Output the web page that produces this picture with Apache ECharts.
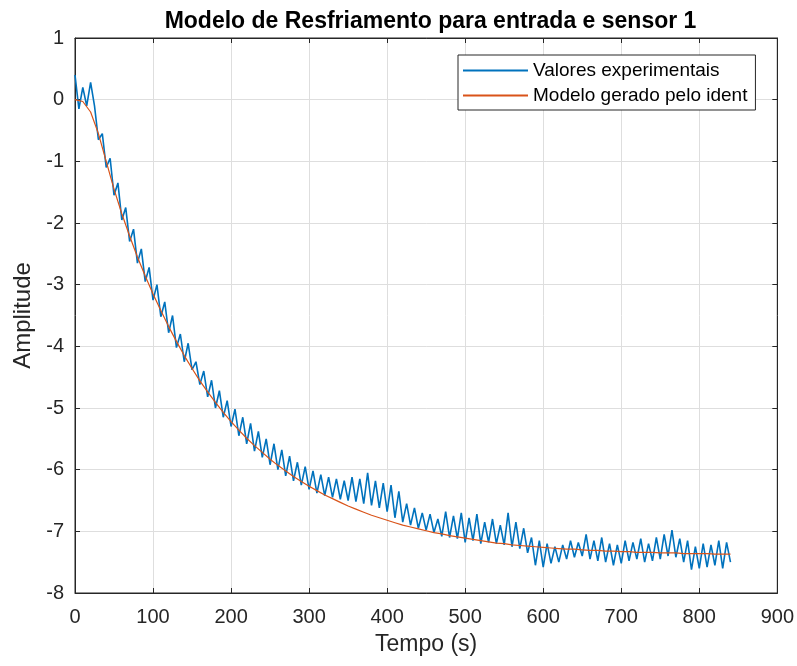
<!DOCTYPE html>
<html>
<head>
<meta charset="utf-8">
<script src="https://cdn.jsdelivr.net/npm/echarts@6/dist/echarts.min.js"></script>
<style>
html,body{margin:0;padding:0;background:#fff;}
#c{width:797px;height:666px;}
</style>
</head>
<body>
<div id="c"></div>
<script>
const titleText = 'Modelo de Resfriamento para entrada e sensor 1';
const xName = 'Tempo (s)';
const yName = 'Amplitude';
const seriesNames = ['Valores experimentais', 'Modelo gerado pelo ident'];

const expTime = [0,5,10,15,20,25,30,35,40,45,50,55,60,65,70,75,80,85,90,95,
100,105,110,115,120,125,130,135,140,145,150,155,160,165,170,175,180,185,190,195,
200,205,210,215,220,225,230,235,240,245,250,255,260,265,270,275,280,285,290,295,
300,305,310,315,320,325,330,335,340,345,350,355,360,365,370,375,380,385,390,395,
400,405,410,415,420,425,430,435,440,445,450,455,460,465,470,475,480,485,490,495,
500,505,510,515,520,525,530,535,540,545,550,555,560,565,570,575,580,585,590,595,
600,605,610,615,620,625,630,635,640,645,650,655,660,665,670,675,680,685,690,695,
700,705,710,715,720,725,730,735,740,745,750,755,760,765,770,775,780,785,790,795,
800,805,810,815,820,825,830,835,840];

const expValues = [0.40,-0.15,0.20,-0.10,0.28,-0.10,-0.65,-0.55,-1.10,-0.95,
-1.55,-1.35,-1.95,-1.75,-2.30,-2.10,-2.65,-2.42,-2.95,-2.72,
-3.25,-3.00,-3.52,-3.28,-3.78,-3.50,-4.02,-3.80,-4.25,-3.95,
-4.38,-4.25,-4.62,-4.40,-4.82,-4.55,-5.00,-4.72,-5.15,-4.88,
-5.30,-5.02,-5.45,-5.15,-5.58,-5.25,-5.70,-5.38,-5.80,-5.50,
-5.92,-5.58,-6.00,-5.68,-6.10,-5.78,-6.18,-5.88,-6.25,-5.95,
-6.32,-6.02,-6.38,-6.08,-6.42,-6.12,-6.45,-6.15,-6.48,-6.18,
-6.50,-6.12,-6.52,-6.15,-6.55,-6.05,-6.58,-6.18,-6.62,-6.22,
-6.68,-6.25,-6.78,-6.35,-6.85,-6.55,-6.90,-6.62,-6.95,-6.70,
-6.98,-6.72,-7.02,-6.80,-7.08,-6.68,-7.10,-6.75,-7.12,-6.70,
-7.18,-6.78,-7.15,-6.72,-7.20,-6.85,-7.18,-6.80,-7.20,-6.90,
-7.22,-6.70,-7.25,-6.85,-7.28,-6.95,-7.35,-7.10,-7.55,-7.15,
-7.58,-7.20,-7.52,-7.25,-7.50,-7.22,-7.45,-7.15,-7.42,-7.18,
-7.40,-7.05,-7.45,-7.15,-7.48,-7.10,-7.50,-7.20,-7.55,-7.22,
-7.52,-7.15,-7.48,-7.18,-7.45,-7.12,-7.50,-7.20,-7.48,-7.10,
-7.45,-7.05,-7.40,-6.98,-7.42,-7.12,-7.50,-7.15,-7.62,-7.25,
-7.60,-7.20,-7.58,-7.22,-7.55,-7.15,-7.60,-7.18,-7.50];

const modelTime = [0,10,20,30,40,50,60,70,80,90,100,110,120,130,140,150,160,170,180,190,
200,210,220,230,240,250,260,270,280,290,300,310,320,330,340,350,360,370,380,390,
400,410,420,430,440,450,460,470,480,490,500,510,520,530,540,550,560,570,580,590,
600,610,620,630,640,650,660,670,680,690,700,710,720,730,740,750,760,770,780,790,
800,810,820,830,840];

const modelValues = [0.00,-0.03,-0.20,-0.55,-1.00,-1.45,-1.85,-2.21,-2.55,-2.86,
-3.15,-3.42,-3.68,-3.92,-4.15,-4.36,-4.56,-4.74,-4.91,-5.07,
-5.22,-5.36,-5.49,-5.61,-5.72,-5.83,-5.93,-6.02,-6.11,-6.19,
-6.27,-6.34,-6.41,-6.47,-6.53,-6.59,-6.64,-6.69,-6.74,-6.78,
-6.82,-6.86,-6.90,-6.93,-6.96,-6.99,-7.02,-7.04,-7.07,-7.09,
-7.11,-7.13,-7.15,-7.17,-7.19,-7.20,-7.22,-7.23,-7.24,-7.25,
-7.26,-7.27,-7.28,-7.29,-7.29,-7.30,-7.31,-7.31,-7.32,-7.32,
-7.33,-7.33,-7.34,-7.34,-7.34,-7.35,-7.35,-7.35,-7.36,-7.36,
-7.36,-7.36,-7.37,-7.37,-7.37];

const xTicks = {min: 0, max: 900, interval: 100};
const yTicks = {min: -8, max: 1, interval: 1};

const expData = expTime.map((t, i) => [t, expValues[i]]);
const modelData = modelTime.map((t, i) => [t, modelValues[i]]);

const chart = echarts.init(document.getElementById('c'), null, {renderer: 'canvas'});
const font = '"Liberation Sans", Arial, sans-serif';
const axisCol = '#262626';
const gridCol = '#dedede';

chart.setOption({
  animation: false,
  backgroundColor: '#fff',
  title: {
    text: titleText, left: 425.5, top: 5, textAlign: 'center',
    textStyle: {fontFamily: font, fontSize: 23, fontWeight: 'bold', color: '#000'}
  },
  grid: {left: 75, right: 19, top: 38, bottom: 73, show: true, borderColor: axisCol, borderWidth: 1},
  legend: {
    orient: 'vertical', left: 458, top: 55,
    data: seriesNames,
    backgroundColor: '#fff', borderColor: axisCol, borderWidth: 1,
    padding: [6, 8, 5, 5], itemGap: 6, itemWidth: 65, itemHeight: 2,
    icon: 'rect',
    textStyle: {fontFamily: font, fontSize: 19, color: '#000'}
  },
  xAxis: [{
    type: 'value', min: xTicks.min, max: xTicks.max, interval: xTicks.interval,
    name: xName, nameLocation: 'middle', nameGap: 40,
    nameTextStyle: {fontFamily: font, fontSize: 23, color: axisCol},
    axisLine: {show: true, onZero: false, lineStyle: {color: axisCol, width: 1}},
    axisTick: {show: true, inside: true, length: 5, lineStyle: {color: axisCol}},
    axisLabel: {fontFamily: font, fontSize: 20, color: axisCol, margin: 14},
    splitLine: {show: true, lineStyle: {color: gridCol, width: 1}}
  }, {
    type: 'value', position: 'top', min: xTicks.min, max: xTicks.max, interval: xTicks.interval,
    axisLine: {show: true, onZero: false, lineStyle: {color: axisCol}},
    axisTick: {show: true, inside: true, length: 5, lineStyle: {color: axisCol}},
    axisLabel: {show: false}, splitLine: {show: false}
  }],
  yAxis: [{
    type: 'value', min: yTicks.min, max: yTicks.max, interval: yTicks.interval,
    name: yName, nameLocation: 'middle', nameGap: 32,
    nameTextStyle: {fontFamily: font, fontSize: 24, color: axisCol},
    axisLine: {show: true, onZero: false, lineStyle: {color: axisCol, width: 1}},
    axisTick: {show: true, inside: true, length: 5, lineStyle: {color: axisCol}},
    axisLabel: {fontFamily: font, fontSize: 20, color: axisCol, margin: 11},
    splitLine: {show: true, lineStyle: {color: gridCol, width: 1}}
  }, {
    type: 'value', position: 'right', min: yTicks.min, max: yTicks.max, interval: yTicks.interval,
    axisLine: {show: true, onZero: false, lineStyle: {color: axisCol}},
    axisTick: {show: true, inside: true, length: 5, lineStyle: {color: axisCol}},
    axisLabel: {show: false}, splitLine: {show: false}
  }],
  series: [{
    name: seriesNames[0], type: 'line', data: expData, showSymbol: false, symbol: 'none',
    lineStyle: {color: '#0072BD', width: 1.6}, itemStyle: {color: '#0072BD'}, z: 2
  }, {
    name: seriesNames[1], type: 'line', data: modelData, showSymbol: false, symbol: 'none',
    lineStyle: {color: '#D95319', width: 1.2}, itemStyle: {color: '#D95319'}, z: 3
  }]
});
</script>
</body>
</html>
